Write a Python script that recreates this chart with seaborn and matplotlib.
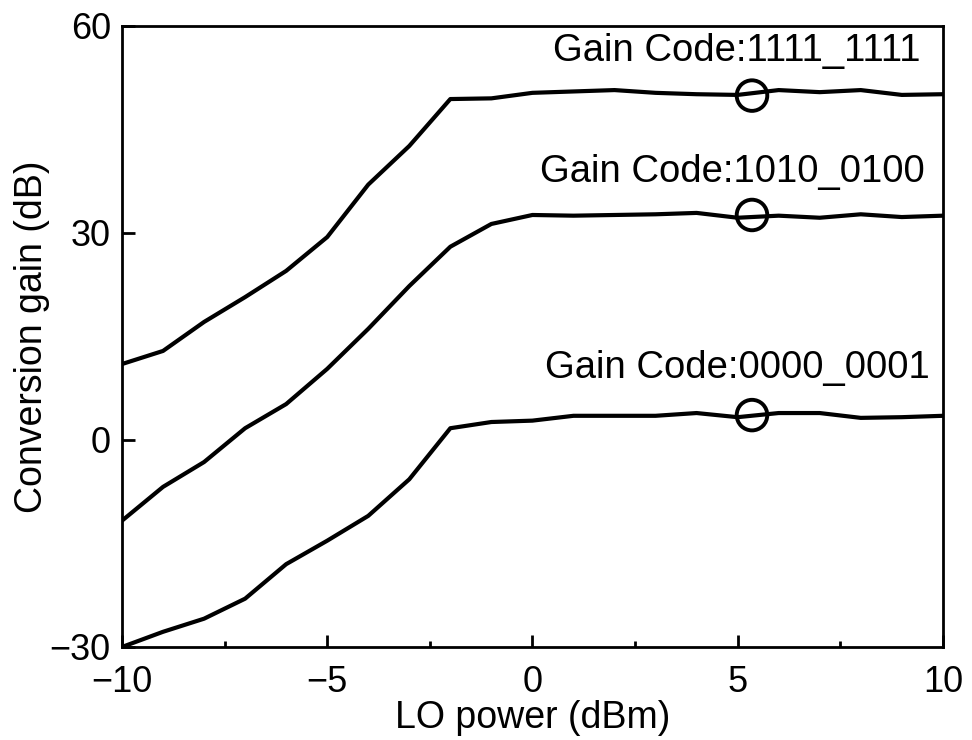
import numpy as np
import pandas as pd
import matplotlib
matplotlib.use("Agg")
import matplotlib.pyplot as plt
import seaborn as sns
from matplotlib.ticker import MultipleLocator

lo_power = list(range(-10, 11))
gain_1111_1111 = [11.0, 12.9, 17.1, 20.7, 24.5, 29.4, 37.0, 42.6, 49.4, 49.5, 50.3,
                  50.5, 50.7, 50.3, 50.1, 50.0, 50.7, 50.4, 50.7, 50.0, 50.1]
gain_1010_0100 = [-11.7, -6.8, -3.2, 1.7, 5.2, 10.3, 16.1, 22.3, 28.0, 31.3, 32.6,
                  32.5, 32.6, 32.7, 32.9, 32.2, 32.5, 32.2, 32.7, 32.3, 32.5]
gain_0000_0001 = [-30.0, -27.8, -25.9, -23.0, -18.0, -14.6, -11.0, -5.7, 1.7, 2.6, 2.8,
                  3.5, 3.5, 3.5, 3.9, 3.3, 3.9, 3.9, 3.2, 3.3, 3.5]
series_names = ["Gain Code:1111_1111", "Gain Code:1010_0100", "Gain Code:0000_0001"]
marker_x = [5.35, 5.35, 5.35]
marker_y = [49.9, 32.6, 3.6]
label_x = [9.45, 9.56, 9.68]
label_y = [56.3, 38.8, 10.4]

sns.set_theme(style="white")
plt.rcParams['font.family'] = ['Liberation Sans', 'DejaVu Sans']
plt.rcParams['axes.unicode_minus'] = True

df = pd.DataFrame({
    "LO power": lo_power * 3,
    "gain": gain_1111_1111 + gain_1010_0100 + gain_0000_0001,
    "code": sum([[n] * len(lo_power) for n in series_names], []),
})

fig = plt.figure(figsize=(9.72, 7.4), dpi=100)
ax = fig.add_axes([0.1255, 0.1257, 0.8445, 0.8393])

sns.lineplot(data=df, x="LO power", y="gain", hue="code",
             palette=["black"] * 3, linewidth=3.0, legend=False, ax=ax)
sns.scatterplot(x=marker_x, y=marker_y, s=22 ** 2, marker="o",
                facecolor="none", edgecolor="black", linewidth=2.8, ax=ax, zorder=5)

for name, tx, ty in zip(series_names, label_x, label_y):
    ax.text(tx, ty, name, ha="right", va="center", fontsize=27.5, color="black")

ax.set_xlim(-10, 10)
ax.set_ylim(-30, 60)
ax.xaxis.set_major_locator(MultipleLocator(5))
ax.xaxis.set_minor_locator(MultipleLocator(2.5))
ax.yaxis.set_major_locator(MultipleLocator(30))
ax.set_xlabel("LO power (dBm)", fontsize=27, labelpad=0, color="black")
ax.set_ylabel("Conversion gain (dB)", fontsize=27, labelpad=0, color="black")
ax.tick_params(axis="both", which="major", direction="in", length=9, width=2,
               labelsize=26, color="black", labelcolor="black",
               top=False, right=False, bottom=True, left=True)
ax.tick_params(axis="x", which="major", pad=13)
ax.tick_params(axis="y", which="major", pad=8)
ax.tick_params(axis="x", which="minor", direction="in", length=4, width=2,
               bottom=True, top=False, color="black")
for sp in ax.spines.values():
    sp.set_color("black")
    sp.set_linewidth(2.0)
    sp.set_visible(True)

fig.savefig("out.png", dpi=100)
